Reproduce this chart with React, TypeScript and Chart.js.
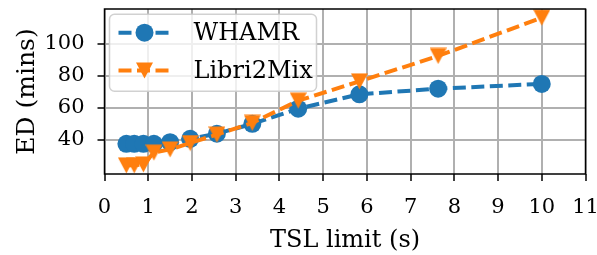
import React, { useEffect, useRef } from 'react';
import { Chart, registerables } from 'chart.js';

Chart.register(...registerables);

// ---- data ----
const tslLimits = [0.5, 0.68, 0.89, 1.13, 1.5, 1.96, 2.57, 3.38, 4.43, 5.83, 7.63, 10.0];
const whamrED = [37.5, 37.5, 37.5, 37.5, 38.5, 40.6, 43.8, 50, 59.5, 68.5, 72, 75];
const libriED = [24, 24, 24.6, 32, 34, 38, 43.3, 50.6, 64.5, 76.6, 92.5, 116.5];
const seriesNames = ['WHAMR', 'Libri2Mix'];
const xTickValues = [0, 1, 2, 3, 4, 5, 6, 7, 8, 9, 10, 11];
const yTickValues = [40, 60, 80, 100];
const xTitle = 'TSL limit (s)';
const yTitle = 'ED (mins)';

const BLUE = '#1f77b4';
const ORANGE = '#ff7f0e';
const FONT = "'DejaVu Serif'";

function makeTriangle(size: number, color: string): HTMLCanvasElement {
  const c = document.createElement('canvas');
  c.width = size;
  c.height = size;
  const g = c.getContext('2d')!;
  g.fillStyle = color;
  g.beginPath();
  g.moveTo(0, 0.5);
  g.lineTo(size, 0.5);
  g.lineTo(size / 2, size - 0.5);
  g.closePath();
  g.fill();
  return c;
}

export default function App() {
  const ref = useRef<HTMLCanvasElement | null>(null);

  useEffect(() => {
    document.body.style.margin = '0';
    const canvas = ref.current;
    if (!canvas) return;
    const tri = makeTriangle(17, ORANGE);

    const framePlugin = {
      id: 'frame',
      afterDatasetsDraw(chart: any) {
        const { ctx, chartArea: a } = chart;
        ctx.save();
        ctx.strokeStyle = '#000';
        ctx.lineWidth = 1.5;
        ctx.strokeRect(a.left, a.top, a.right - a.left, a.bottom - a.top);
        ctx.restore();
      },
    };

    const legendPlugin = {
      id: 'mplLegend',
      afterDatasetsDraw(chart: any) {
        const { ctx, chartArea: a } = chart;
        const x0 = a.left + 5;
        const y0 = a.top + 5.3;
        const w = 207;
        const h = 77;
        const r = 5;
        ctx.save();
        ctx.beginPath();
        ctx.moveTo(x0 + r, y0);
        ctx.arcTo(x0 + w, y0, x0 + w, y0 + h, r);
        ctx.arcTo(x0 + w, y0 + h, x0, y0 + h, r);
        ctx.arcTo(x0, y0 + h, x0, y0, r);
        ctx.arcTo(x0, y0, x0 + w, y0, r);
        ctx.closePath();
        ctx.fillStyle = 'rgba(255,255,255,0.8)';
        ctx.fill();
        ctx.strokeStyle = 'rgba(204,204,204,0.9)';
        ctx.lineWidth = 1.5;
        ctx.stroke();

        const rows = [y0 + 18.4, y0 + 56.2];
        const colors = [BLUE, ORANGE];
        rows.forEach((ry, i) => {
          ctx.strokeStyle = colors[i];
          ctx.lineWidth = 4;
          ctx.setLineDash([13, 5.5]);
          ctx.beginPath();
          ctx.moveTo(x0 + 9, ry);
          ctx.lineTo(x0 + 63, ry);
          ctx.stroke();
          ctx.setLineDash([]);
          const mx = x0 + 35;
          if (i === 0) {
            ctx.fillStyle = BLUE;
            ctx.beginPath();
            ctx.arc(mx, ry, 9, 0, Math.PI * 2);
            ctx.fill();
          } else {
            ctx.drawImage(tri, mx - tri.width / 2, ry - tri.height / 2);
          }
          ctx.fillStyle = '#000';
          ctx.font = `24px ${FONT}`;
          ctx.textBaseline = 'middle';
          ctx.textAlign = 'left';
          ctx.fillText(seriesNames[i], x0 + 84, ry + 1);
        });
        ctx.restore();
      },
    };

    const chart = new Chart(canvas, {
      type: 'line',
      data: {
        datasets: [
          {
            label: seriesNames[0],
            data: tslLimits.map((x, i) => ({ x, y: whamrED[i] })),
            borderColor: BLUE,
            backgroundColor: BLUE,
            borderWidth: 4,
            borderDash: [13, 5.5],
            pointStyle: 'circle',
            pointRadius: 9,
            pointBorderWidth: 0,
            pointBackgroundColor: BLUE,
            order: 1,
            clip: false as any,
          },
          {
            label: seriesNames[1],
            data: tslLimits.map((x, i) => ({ x, y: libriED[i] })),
            borderColor: ORANGE,
            backgroundColor: ORANGE,
            borderWidth: 4,
            borderDash: [13, 5.5],
            pointStyle: tri as any,
            pointRadius: 9,
            pointBorderWidth: 0,
            order: 0,
            clip: false as any,
          },
        ],
      },
      options: {
        animation: false,
        responsive: true,
        maintainAspectRatio: false,
        layout: { padding: { left: 0, right: 11.5, top: 8, bottom: 0 } },
        plugins: {
          legend: { display: false },
          tooltip: { enabled: false },
        },
        scales: {
          x: {
            type: 'linear',
            min: 0,
            max: 11,
            afterBuildTicks: (s: any) => {
              s.ticks = xTickValues.map((v) => ({ value: v }));
            },
            afterFit: (s: any) => {
              s.height = 81;
              s.paddingLeft = 0;
              s.paddingRight = 0;
            },
            ticks: {
              color: '#000',
              font: { family: FONT, size: 21 },
              padding: 14,
              maxRotation: 0,
              autoSkip: false,
            },
            grid: {
              color: '#b0b0b0',
              lineWidth: 2,
              tickColor: '#000',
              tickLength: 7,
              tickWidth: 1.5,
            } as any,
            border: { display: false },
            title: {
              display: true,
              text: xTitle,
              color: '#000',
              font: { family: FONT, size: 24 },
              padding: { top: 0, bottom: 0 },
            },
          },
          y: {
            type: 'linear',
            min: 18.6,
            max: 121.9,
            afterBuildTicks: (s: any) => {
              s.ticks = yTickValues.map((v) => ({ value: v }));
            },
            afterFit: (s: any) => {
              s.width = 104.5;
              s.paddingTop = 0;
              s.paddingBottom = 0;
            },
            ticks: {
              color: '#000',
              font: { family: FONT, size: 21 },
              padding: 13,
              autoSkip: false,
            },
            grid: {
              color: '#b0b0b0',
              lineWidth: 2,
              tickColor: '#000',
              tickLength: 7,
              tickWidth: 1.5,
            } as any,
            border: { display: false },
            title: {
              display: true,
              text: yTitle,
              color: '#000',
              font: { family: FONT, size: 25 },
              padding: { top: 12, bottom: 0 },
            },
          },
        },
      },
      plugins: [framePlugin, legendPlugin],
    });

    return () => chart.destroy();
  }, []);

  return (
    <div style={{ position: 'absolute', left: 0, top: 0, width: 597, height: 255 }}>
      <canvas ref={ref} />
    </div>
  );
}
